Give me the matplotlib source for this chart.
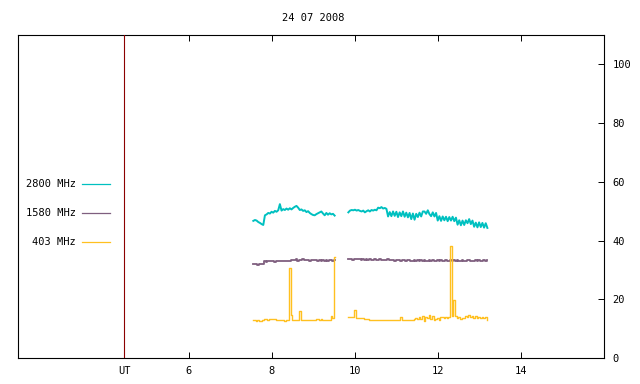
import numpy as np
import matplotlib
matplotlib.use("Agg")
from matplotlib import pyplot as plt

# ---------------------------------------------------------------
# DATA  (UT hours, flux units)
# ---------------------------------------------------------------

TITLE     = "24 07 2008"
UT_MARK   = 4.44
XTICKS    = [6, 8, 10, 12, 14]
YTICKS    = [0, 20, 40, 60, 80, 100]

SEG1_START, SEG1_END = 7.55, 9.51
SEG2_START, SEG2_END = 9.84, 13.19

f2800_seg1 = [46.7, 47.0, 46.8, 46.3, 46.0, 45.6, 45.3, 48.6, 48.9, 49.4,
              49.2, 49.8, 49.5, 50.1, 49.8, 50.3, 52.4, 50.2, 50.7, 50.4,
              50.9, 50.5, 51.0, 50.6, 51.1, 51.5, 51.8, 51.2, 50.4, 50.6,
              50.1, 50.3, 49.7, 50.0, 49.4, 49.0, 48.7, 48.6, 49.0, 49.3,
              49.6, 49.9, 49.2, 48.6, 49.4, 48.8, 49.3, 48.9, 49.1, 48.5]
f2800_seg2 = [49.6, 50.2, 50.4, 50.3, 50.5, 50.2, 50.4, 50.1, 49.9, 50.2,
              49.6, 50.0, 50.3, 49.9, 50.4, 50.2, 50.5, 50.3, 51.2, 51.0,
              51.4, 50.9, 51.1, 50.8, 48.2, 49.7, 48.3, 49.9, 48.4, 49.8,
              48.0, 49.6, 48.3, 49.9, 48.1, 49.5, 47.9, 49.4, 47.3, 49.2,
              47.1, 49.1, 48.0, 49.5, 48.2, 49.9, 49.9, 49.1, 50.3, 49.0,
              48.3, 49.6, 48.2, 49.4, 46.8, 48.3, 46.7, 48.2, 46.9, 48.1,
              46.6, 48.0, 46.8, 48.1, 46.6, 47.8, 45.4, 46.9, 45.2, 46.8,
              45.3, 46.9, 45.9, 47.3, 45.6, 46.8, 44.7, 46.1, 44.5, 46.2,
              44.6, 46.0, 44.4, 45.9, 44.3]

f1580_seg1 = [31.9, 31.9, 32.0, 31.8, 31.9, 31.9, 31.9, 33.0, 32.8, 33.1,
              32.9, 33.0, 33.2, 32.8, 33.1, 33.0, 33.2, 32.9, 33.1, 33.0,
              33.1, 33.0, 33.2, 33.3, 33.5, 33.3, 33.6, 33.2, 33.5, 33.4,
              33.6, 33.3, 33.5, 33.4, 33.2, 33.5, 33.4, 33.3, 33.5, 33.1,
              33.3, 33.0, 33.3, 33.1, 33.4, 33.2, 33.3, 33.4, 33.2, 33.4]
f1580_seg2 = [33.6, 33.8, 33.7, 33.5, 33.8, 33.6, 33.7, 33.6, 33.5, 33.6,
              33.5, 33.6, 33.4, 33.6, 33.5, 33.5, 33.6, 33.4, 33.5, 33.7,
              33.5, 33.4, 33.5, 33.4, 33.6, 33.3, 33.5, 33.4, 33.2, 33.4,
              33.3, 33.5, 33.2, 33.4, 33.3, 33.1, 33.3, 33.4, 33.2, 33.0,
              33.3, 33.2, 33.4, 33.1, 33.3, 33.2, 33.3, 33.1, 33.2, 33.4,
              33.1, 33.3, 33.2, 33.0, 33.3, 33.2, 33.4, 33.2, 33.1, 33.3,
              33.2, 33.1, 33.3, 33.2, 33.4, 33.1, 33.3, 33.2, 33.0, 33.3,
              33.2, 33.1, 33.3, 33.4, 33.2, 33.0, 33.2, 33.3, 33.1, 33.4,
              33.2, 33.1, 33.3, 33.2, 33.4]

f403_seg1 = [12.8, 12.9, 12.7, 13.0, 12.6, 12.6, 13.1, 13.2, 13.3, 13.1,
             13.4, 13.2, 13.3, 13.2, 13.0, 12.8, 12.9, 12.8, 12.8, 12.7,
             12.8, 12.8, 30.5, 14.6, 12.9, 13.1, 13.0, 13.1, 16.0, 13.0,
             12.8, 12.8, 12.9, 12.8, 12.8, 13.1, 12.8, 12.9, 13.2, 13.2,
             13.1, 13.2, 12.8, 12.8, 12.8, 12.8, 12.8, 14.4, 13.5, 34.3]
f403_seg2 = [14.1, 14.0, 13.8, 13.9, 16.3, 13.7, 13.7, 13.6, 13.7, 13.6,
             13.4, 13.3, 13.2, 12.9, 13.0, 12.9, 12.9, 12.9, 13.1, 12.9,
             12.9, 12.9, 12.9, 12.9, 13.0, 12.9, 12.9, 12.9, 12.9, 12.9,
             12.9, 12.9, 13.9, 12.9, 12.9, 13.0, 12.9, 12.9, 12.9, 12.9,
             13.2, 13.5, 13.3, 13.9, 13.4, 14.2, 12.6, 14.0, 13.5, 14.5,
             13.3, 14.3, 12.9, 13.2, 13.6, 13.1, 13.8, 14.1, 13.5, 13.9,
             13.7, 14.0, 38.1, 14.2, 19.7, 14.3, 13.6, 14.0, 13.4, 13.6,
             13.5, 14.3, 13.8, 14.6, 13.9, 14.4, 13.7, 14.2, 13.6, 13.9,
             13.5, 13.8, 13.6, 14.0, 12.9]

# name, colour, line width, draw style, segments
SERIES = [
    ("2800 MHz", "#00c0c0", 1.4, "default",   f2800_seg1, f2800_seg2),
    ("1580 MHz", "#7f5f7f", 1.3, "steps-mid", f1580_seg1, f1580_seg2),
    ("403 MHz",  "#ffc020", 1.0, "steps-mid", f403_seg1,  f403_seg2),
]

# ---------------------------------------------------------------
# PLOT
# ---------------------------------------------------------------

FONT = "DejaVu Sans Mono"
FS   = 7.5

fig = plt.figure(figsize=(6.4, 3.84), dpi=100)
ax  = fig.add_axes([18 / 640, 26 / 384, 586 / 640, 323 / 384])

for name, color, lw, style, seg1, seg2 in SERIES:
    t1 = np.linspace(SEG1_START, SEG1_END, len(seg1))
    t2 = np.linspace(SEG2_START, SEG2_END, len(seg2))
    ax.plot(t1, seg1, color=color, lw=lw, drawstyle=style)
    ax.plot(t2, seg2, color=color, lw=lw, drawstyle=style)

ax.axvline(UT_MARK, color="#8b0000", lw=0.8, zorder=5)

ax.set_xlim(1.88, 16.0)
ax.set_ylim(0, 110)

ax.set_xticks([UT_MARK] + XTICKS)
ax.set_xticklabels(["UT"] + [str(v) for v in XTICKS], family=FONT, fontsize=FS)
ax.set_yticks(YTICKS)
ax.set_yticklabels([str(v) for v in YTICKS], family=FONT, fontsize=FS)

ax.yaxis.tick_right()
ax.tick_params(axis="x", direction="in", length=4, width=0.7, top=True, pad=6)
ax.tick_params(axis="y", direction="in", length=4, width=0.7, left=False,
               right=True, pad=6)
for sp in ax.spines.values():
    sp.set_linewidth(0.8)

# legend drawn at the left, gnuplot style
LEG_Y = [0.539, 0.449, 0.359]
for (name, color, *_), ly in zip(SERIES, LEG_Y):
    ax.text(0.099, ly, name, transform=ax.transAxes, ha="right", va="center",
            family=FONT, fontsize=FS)
    ax.plot([0.109, 0.157], [ly, ly], transform=ax.transAxes,
            color=color, lw=0.9)

fig.text(313 / 640, 1 - 18 / 384, TITLE, ha="center", va="center",
         family=FONT, fontsize=FS)

fig.savefig("out.png", dpi=100)
